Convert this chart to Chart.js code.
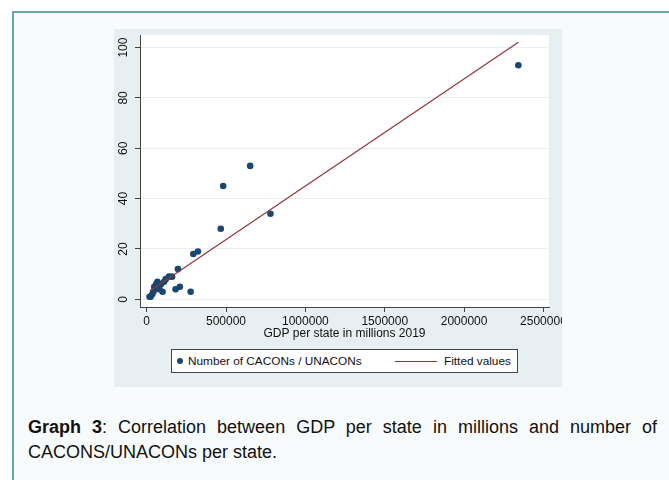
<!DOCTYPE html>
<html>
<head>
<meta charset="utf-8">
<script src="https://cdn.jsdelivr.net/npm/chart.js@4"></script>
<style>
  html, body { margin: 0; padding: 0; background: #ffffff; }
  body { width: 669px; height: 480px; position: relative; overflow: hidden; font-family: 'Liberation Sans', Arial, sans-serif; }
  #frame { position: absolute; left: 12px; top: 11px; width: 700px; height: 520px; background: #f8fbfb; border-left: 2px solid #6aa8a8; border-top: 2px solid #6aa8a8; }
  #panel { position: absolute; left: 114px; top: 29px; width: 448px; height: 358px; background: #e8eff3; }
  #chart { position: absolute; left: 0; top: 0; }
  #legend { position: absolute; left: 57px; top: 320px; width: 345px; height: 22px; background: #fff; border: 1px solid #444; font-size: 11.8px; color: #111; }
  #legend .dot { position: absolute; left: 5px; top: 8px; width: 6px; height: 6px; border-radius: 50%; background: #1a476f; }
  #legend .t1 { position: absolute; left: 16px; top: 4px; }
  #legend .ln { position: absolute; left: 223px; top: 11px; width: 42px; height: 0; border-top: 1px solid #90353b; }
  #legend .t2 { position: absolute; left: 272px; top: 4px; }
  #caption { position: absolute; left: 28px; top: 415px; width: 629px; font-size: 18px; line-height: 25px; color: #111; text-align: justify; }
</style>
</head>
<body>
<div id="frame"></div>
<div id="panel">
  <canvas id="chart" width="448" height="358"></canvas>
  <div id="legend">
    <span class="dot"></span><span class="t1">Number of CACONs / UNACONs</span>
    <span class="ln"></span><span class="t2">Fitted values</span>
  </div>
</div>
<div id="caption"><b>Graph 3</b>: Correlation between GDP per state in millions and number of CACONS/UNACONs per state.</div>
<script>
// GDP per state (millions, 2019) vs number of CACONs / UNACONs
var gdp = [18000, 25000, 35000, 42000, 48000, 55000, 60000, 68000, 72000, 80000, 90000, 100000, 110000, 120000,
           140000, 160000, 182000, 197000, 209000, 277000, 294000, 323000, 467000, 482000, 652000, 780000, 2342000];
var centers = [1, 1, 2, 3, 5, 4, 6, 7, 5, 4, 6, 3, 7, 8,
               9, 9, 4, 12, 5, 3, 18, 19, 28, 45, 53, 34, 93];

// fitted line end points
var fitX = [20000, 2342000];
var fitY = [3.3, 102.1];

var xTicks = [0, 500000, 1000000, 1500000, 2000000, 2500000];
var yTicks = [0, 20, 40, 60, 80, 100];

Chart.defaults.font.family = "'Liberation Sans', Arial, sans-serif";
Chart.defaults.color = '#111';

var scatterPts = gdp.map(function(v, i) { return {x: v, y: centers[i]}; });
var fitPts = fitX.map(function(v, i) { return {x: v, y: fitY[i]}; });

var plotBg = {
    id: 'plotBg',
    beforeDraw: function(chart) {
        var a = chart.chartArea;
        var ctx = chart.ctx;
        ctx.save();
        ctx.fillStyle = '#ffffff';
        ctx.fillRect(a.left, a.top, a.right - a.left, a.bottom - a.top);
        ctx.restore();
    }
};

var ctx = document.getElementById('chart').getContext('2d');
var chart = new Chart(ctx, {
    type: 'scatter',
    data: {
        datasets: [
            {
                label: 'Fitted values',
                type: 'line',
                data: fitPts,
                borderColor: '#90353b',
                borderWidth: 1.2,
                pointRadius: 0,
                fill: false
            },
            {
                label: 'Number of CACONs / UNACONs',
                data: scatterPts,
                backgroundColor: '#1a476f',
                borderColor: '#1a476f',
                pointRadius: 3.3,
                borderWidth: 0
            }
        ]
    },
    options: {
        responsive: false,
        animation: false,
        layout: { padding: { top: 6, right: 13, bottom: 46, left: 0 } },
        plugins: {
            legend: { display: false },
            tooltip: { enabled: false }
        },
        scales: {
            x: {
                type: 'linear',
                min: -42000,
                max: 2535000,
                afterBuildTicks: function(scale) {
                    scale.ticks = xTicks.map(function(v) { return {value: v}; });
                },
                afterFit: function(scale) {
                    scale.height = 34;
                    scale.paddingLeft = 0;
                    scale.paddingRight = 0;
                },
                grid: { drawOnChartArea: false, color: '#444', tickLength: 5 },
                border: { color: '#444', width: 1 },
                ticks: { font: { size: 12 }, padding: 2, maxRotation: 0, autoSkip: false,
                         callback: function(v) { return String(v); } },
                title: { display: true, text: 'GDP per state in millions 2019', font: { size: 12 }, padding: 0 }
            },
            y: {
                min: -3.06,
                max: 105,
                afterBuildTicks: function(scale) {
                    scale.ticks = yTicks.map(function(v) { return {value: v}; });
                },
                afterFit: function(scale) {
                    scale.width = 26;
                    scale.paddingTop = 0;
                    scale.paddingBottom = 0;
                },
                grid: { color: '#e9edf1', tickColor: '#444', tickLength: 5 },
                border: { color: '#444', width: 1 },
                ticks: { font: { size: 12 }, padding: 1, minRotation: 90, maxRotation: 90, crossAlign: 'center' }
            }
        }
    },
    plugins: [plotBg]
});
</script>
</body>
</html>
